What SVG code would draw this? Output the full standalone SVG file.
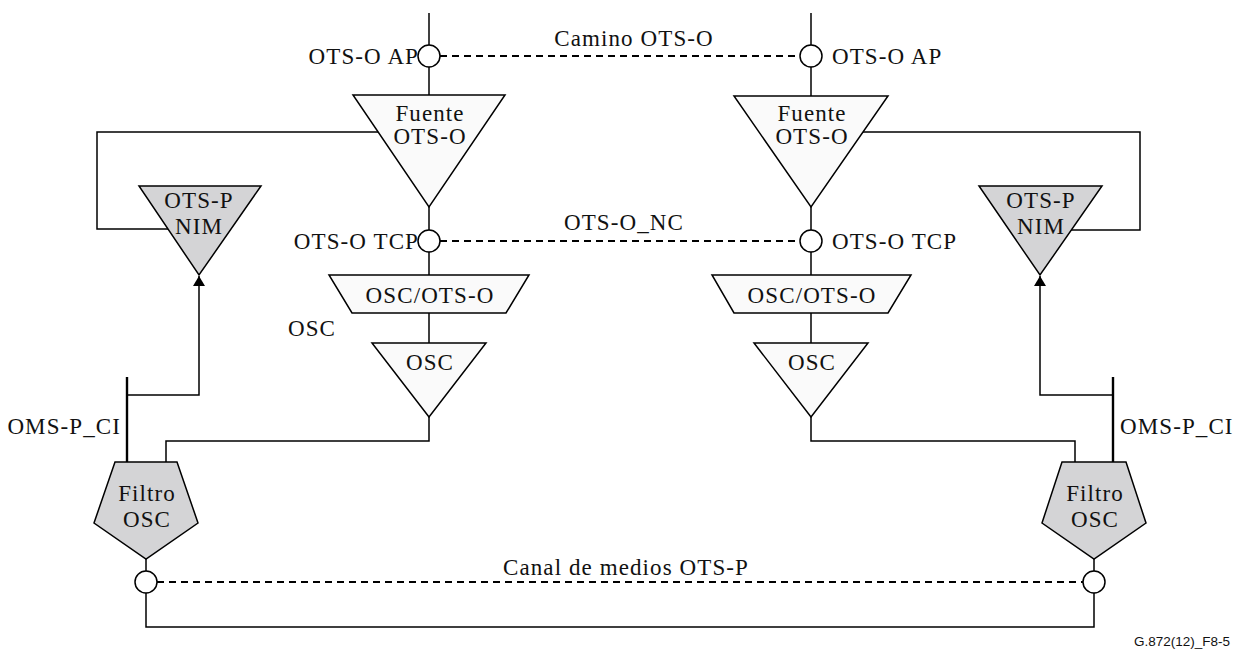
<svg xmlns="http://www.w3.org/2000/svg" width="1234" height="650" viewBox="0 0 1234 650">
<defs>
<style>
.ln{fill:none;stroke:#000;stroke-width:1.5}
.thk{fill:none;stroke:#000;stroke-width:2.4}
.dash{fill:none;stroke:#000;stroke-width:1.8;stroke-dasharray:7 5}
.lt{fill:#fafafa;stroke:#000;stroke-width:1.5}
.gr{fill:#d4d4d6;stroke:#000;stroke-width:1.5}
.cp{fill:#fff;stroke:#000;stroke-width:1.5}
text{font-family:"Liberation Serif","Times New Roman",serif;font-size:23px;fill:#111;letter-spacing:1.1px}
.c{text-anchor:middle}
.e{text-anchor:end}
.sm{font-family:"Liberation Sans",Arial,sans-serif;font-size:13.5px;letter-spacing:0}
</style>
<marker id="arr" viewBox="0 0 10 10" refX="10" refY="5" markerWidth="10" markerHeight="12" markerUnits="userSpaceOnUse" orient="auto" preserveAspectRatio="none">
<path d="M0,0 L10,5 L0,10 Z" fill="#000"/>
</marker>
</defs>
<rect width="1234" height="650" fill="#fff"/>
<g id="connectors">
<path class="ln" d="M429,13 V95"/>
<path class="ln" d="M429,207 V275"/>
<path class="ln" d="M429,313 V343"/>
<path class="ln" d="M429,417 V441 H166 V462"/>
<path class="ln" d="M378,132 H97 V229 H168"/>
<path class="ln" d="M127,395 H199 V276" marker-end="url(#arr)"/>
<path class="thk" d="M127,377 V462"/>
<path class="ln" d="M146,559 V627 H1094 V559"/>
<path class="ln" d="M811,13 V96"/>
<path class="ln" d="M811,207 V275"/>
<path class="ln" d="M811,313 V343"/>
<path class="ln" d="M811,417 V441 H1075 V462"/>
<path class="ln" d="M863,132 H1140 V230 H1071"/>
<path class="ln" d="M1113,395 H1040 V276" marker-end="url(#arr)"/>
<path class="thk" d="M1113,377 V462"/>
<path class="dash" d="M440,56 H800"/>
<path class="dash" d="M440,241 H800"/>
<path class="dash" d="M157,582 H1083"/>
</g>
<g id="labels">
<text class="c" x="634" y="46">Camino OTS-O</text>
<text class="c" x="624" y="230">OTS-O_NC</text>
<text class="c" x="626" y="575">Canal de medios OTS-P</text>
<text class="e" x="419" y="64">OTS-O AP</text>
<text x="832" y="64">OTS-O AP</text>
<text class="e" x="419" y="249">OTS-O TCP</text>
<text x="832" y="249">OTS-O TCP</text>
<text x="288" y="336">OSC</text>
<text class="e" x="121" y="434">OMS-P_CI</text>
<text x="1120" y="434">OMS-P_CI</text>
<text class="sm" x="1230" y="646" text-anchor="end">G.872(12)_F8-5</text>
</g>
<g id="ap-left"><circle class="cp" cx="429" cy="56" r="11"/></g>
<g id="ap-right"><circle class="cp" cx="811" cy="56" r="11"/></g>
<g id="tcp-left"><circle class="cp" cx="429" cy="241" r="11"/></g>
<g id="tcp-right"><circle class="cp" cx="811" cy="241" r="11"/></g>
<g id="cp-left"><circle class="cp" cx="146" cy="582" r="11"/></g>
<g id="cp-right"><circle class="cp" cx="1094" cy="582" r="11"/></g>
<g id="fuente-left">
<polygon class="lt" points="353,95 505,95 429,207"/>
<text class="c" x="430" y="121">Fuente</text>
<text class="c" x="430" y="144">OTS-O</text>
</g>
<g id="fuente-right">
<polygon class="lt" points="734,96 888,96 811,207"/>
<text class="c" x="812" y="121">Fuente</text>
<text class="c" x="812" y="144">OTS-O</text>
</g>
<g id="nim-left">
<polygon class="gr" points="139,186 261,186 199,275"/>
<text class="c" x="199" y="208">OTS-P</text>
<text class="c" x="199" y="234">NIM</text>
</g>
<g id="nim-right">
<polygon class="gr" points="979,186 1102,186 1040,275"/>
<text class="c" x="1041" y="208">OTS-P</text>
<text class="c" x="1041" y="234">NIM</text>
</g>
<g id="adapt-left">
<polygon class="lt" points="329,275 529,275 506,313 352,313"/>
<text class="c" x="430" y="303">OSC/OTS-O</text>
</g>
<g id="adapt-right">
<polygon class="lt" points="712,275 911,275 888,313 734,313"/>
<text class="c" x="812" y="303">OSC/OTS-O</text>
</g>
<g id="osc-left">
<polygon class="lt" points="372,343 486,343 429,417"/>
<text class="c" x="430" y="370">OSC</text>
</g>
<g id="osc-right">
<polygon class="lt" points="754,343 868,343 811,417"/>
<text class="c" x="812" y="370">OSC</text>
</g>
<g id="filtro-left">
<polygon class="gr" points="115,462 177,462 198,523 146,559 94,523"/>
<text class="c" x="147" y="501">Filtro</text>
<text class="c" x="147" y="527">OSC</text>
</g>
<g id="filtro-right">
<polygon class="gr" points="1062,462 1126,462 1146,523 1094,559 1042,523"/>
<text class="c" x="1095" y="501">Filtro</text>
<text class="c" x="1095" y="527">OSC</text>
</g>
</svg>
